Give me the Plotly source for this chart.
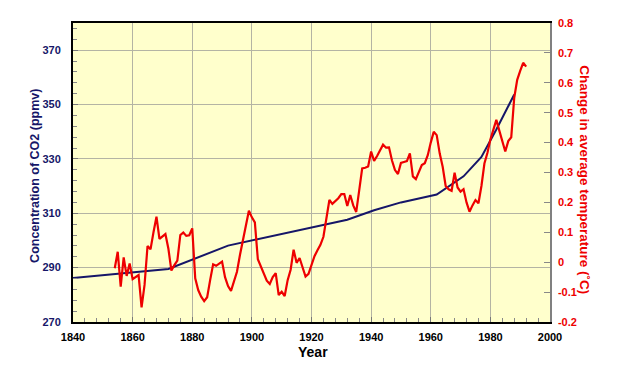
import plotly.graph_objects as go

# ---------------- data ----------------
co2_years = [1840, 1872, 1892, 1932, 1941, 1950, 1962, 1966, 1971, 1977, 1982, 1988]
co2_ppmv = [286.2, 289.5, 298.1, 307.6, 311.1, 314.0, 316.9, 319.9, 323.6, 330.7, 340.8, 353.7]

temp_start_year = 1854
temp_change = [
    -0.020, 0.035, -0.082, 0.016, -0.046, -0.004, -0.057, -0.050, -0.043, -0.151,   # 1854-1863
    -0.076, 0.054, 0.043, 0.100, 0.152, 0.078, 0.085, 0.094, 0.045, -0.028,         # 1864-1873
    -0.010, 0.005, 0.091, 0.099, 0.088, 0.090, 0.113, -0.054, -0.093, -0.115,       # 1874-1883
    -0.130, -0.117, -0.060, -0.007, -0.012, -0.004, 0.002, -0.050, -0.080, -0.096,  # 1884-1893
    -0.060, -0.032, 0.024, 0.075, 0.125, 0.172, 0.150, 0.133, 0.010, -0.015,        # 1894-1903
    -0.040, -0.062, -0.073, -0.050, -0.037, -0.110, -0.099, -0.113, -0.060, -0.025, # 1904-1913
    0.042, -0.002, 0.014, -0.015, -0.048, -0.039, -0.010, 0.020, 0.040, 0.058,      # 1914-1923
    0.085, 0.150, 0.208, 0.195, 0.205, 0.214, 0.228, 0.228, 0.188, 0.225,           # 1924-1933
    0.190, 0.168, 0.240, 0.314, 0.316, 0.320, 0.370, 0.339, 0.355, 0.375,           # 1934-1943
    0.393, 0.383, 0.384, 0.340, 0.308, 0.295, 0.332, 0.335, 0.338, 0.364,           # 1944-1953
    0.287, 0.278, 0.300, 0.325, 0.331, 0.358, 0.400, 0.436, 0.425, 0.364,           # 1954-1963
    0.319, 0.255, 0.244, 0.239, 0.299, 0.250, 0.236, 0.244, 0.200, 0.169,           # 1964-1973
    0.190, 0.208, 0.197, 0.255, 0.330, 0.365, 0.410, 0.445, 0.476, 0.440,           # 1974-1983
    0.405, 0.370, 0.405, 0.418, 0.550, 0.610, 0.640, 0.667, 0.654,                  # 1984-1992
]
temp_years = [temp_start_year + i for i in range(len(temp_change))]

x_ticks = [1840, 1860, 1880, 1900, 1920, 1940, 1960, 1980, 2000]
x_ticklabels = [str(v) for v in x_ticks]
co2_ticks = [270, 290, 310, 330, 350, 370]
co2_ticklabels = [str(v) for v in co2_ticks]
temp_ticks = [-0.2, -0.1, 0.0, 0.1, 0.2, 0.3, 0.4, 0.5, 0.6, 0.7, 0.8]
temp_ticklabels = ["-0.2", "-0.1", "0", "0.1", "0.2", "0.3", "0.4", "0.5", "0.6", "0.7", "0.8"]

# ---------------- style ----------------
NAVY = "#161668"
RED = "#ee0000"
GRID = "#b4b4a4"
FONT = "Liberation Sans, Arial, Helvetica, sans-serif"

fig = go.Figure()
fig.add_trace(go.Scatter(x=co2_years, y=co2_ppmv, mode="lines",
                         line=dict(color=NAVY, width=2), yaxis="y", hoverinfo="skip"))
fig.add_trace(go.Scatter(x=temp_years, y=temp_change, mode="lines",
                         line=dict(color=RED, width=2.2), yaxis="y2", hoverinfo="skip"))

fig.update_layout(
    width=632, height=365,
    margin=dict(l=73, r=82, t=23, b=43, pad=0),
    paper_bgcolor="white", plot_bgcolor="#ffffcc",
    showlegend=False,
    font=dict(family=FONT),
    xaxis=dict(
        range=[1840, 2000], tickmode="array", tickvals=x_ticks, ticktext=x_ticklabels,
        showgrid=True, gridcolor=GRID, gridwidth=1,
        showline=True, linecolor="black", linewidth=2, mirror=True,
        ticks="inside", ticklen=5, tickcolor="#777777",
        minor=dict(tick0=1840, dtick=4, ticks="inside", ticklen=4, tickcolor="#888888", showgrid=False),
        tickfont=dict(family=FONT, size=11, color="black", weight="bold"),
        ticklabelstandoff=4, zeroline=False,
    ),
    yaxis=dict(
        range=[270, 380], tickmode="array", tickvals=co2_ticks, ticktext=co2_ticklabels,
        showgrid=True, gridcolor=GRID, gridwidth=1,
        showline=True, linecolor="black", linewidth=2,
        ticks="inside", ticklen=5, tickcolor="#777777",
        minor=dict(tick0=270, dtick=4, ticks="inside", ticklen=4, tickcolor="#888888", showgrid=False),
        tickfont=dict(family=FONT, size=11, color=NAVY, weight="bold"),
        ticklabelstandoff=8, zeroline=False,
    ),
    yaxis2=dict(
        overlaying="y", side="right",
        range=[-0.2, 0.8], tickmode="array", tickvals=temp_ticks, ticktext=temp_ticklabels,
        showgrid=False, showline=True, linecolor="#808080", linewidth=1.5,
        ticks="inside", ticklen=6, tickcolor="#888888",
        tickfont=dict(family=FONT, size=11, color=RED, weight="bold"),
        ticklabelstandoff=4, zeroline=False,
    ),
    annotations=[
        dict(text="Concentration of CO2 (ppmv)", xref="paper", yref="paper",
             x=-0.0786, y=0.487, xanchor="center", yanchor="middle", textangle=-90,
             showarrow=False, font=dict(family=FONT, size=12.5, color=NAVY, weight="bold")),
        dict(text="Change in average temperature (˚C)", xref="paper", yref="paper",
             x=1.0734, y=0.477, xanchor="center", yanchor="middle", textangle=90,
             showarrow=False, font=dict(family=FONT, size=13.5, color=RED, weight="bold")),
        dict(text="Year", xref="paper", yref="paper",
             x=0.504, y=-0.1003, xanchor="center", yanchor="middle",
             showarrow=False, font=dict(family=FONT, size=14, color="black", weight="bold")),
    ],
)

fig.write_html(
    "out.html",
    config={"displayModeBar": False},
    post_script="document.body.style.margin='0';document.body.style.padding='0';",
)
